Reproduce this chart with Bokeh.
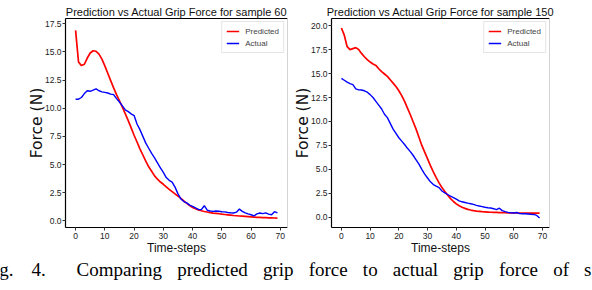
from bokeh.plotting import figure
from bokeh.layouts import column, row
from bokeh.models import (Range1d, FixedTicker, LinearAxis, Label, Legend,
                          LegendItem, PrintfTickFormatter)
from bokeh.embed import file_html
from bokeh.resources import INLINE

# ---------------- data ----------------
time_steps = list(range(70))

pred_60 = [16.9, 14.1, 13.78, 13.9, 14.45, 14.9, 15.1, 15.05, 14.8, 14.35,
           13.75, 13.1, 12.45, 11.8, 11.2, 10.65, 10.1, 9.5, 8.9, 8.25,
           7.6, 7.0, 6.4, 5.85, 5.3, 4.8, 4.4, 4.0, 3.7, 3.45,
           3.25, 3.02, 2.8, 2.6, 2.4, 2.2, 2.0, 1.78, 1.56, 1.36,
           1.2, 1.08, 0.98, 0.9, 0.84, 0.79, 0.74, 0.7, 0.67, 0.64,
           0.6, 0.57, 0.54, 0.51, 0.48, 0.46, 0.44, 0.42, 0.4, 0.38,
           0.36, 0.34, 0.32, 0.31, 0.3, 0.29, 0.28, 0.27, 0.26, 0.25]

actual_60 = [10.8, 10.8, 10.95, 11.3, 11.55, 11.5, 11.6, 11.72, 11.55, 11.45,
             11.4, 11.35, 11.25, 11.2, 10.85, 10.55, 10.2, 9.85, 9.7, 9.5,
             9.35, 8.6, 8.1, 7.5, 6.9, 6.45, 6.0, 5.6, 5.15, 4.7,
             4.3, 3.85, 3.6, 3.45, 3.0, 2.4, 1.95, 1.72, 1.6, 1.4,
             1.3, 1.15, 1.02, 1.0, 1.35, 0.95, 0.88, 0.85, 0.88, 0.86,
             0.82, 0.8, 0.75, 0.72, 0.7, 0.78, 1.05, 0.85, 0.72, 0.62,
             0.55, 0.45, 0.62, 0.7, 0.65, 0.72, 0.6, 0.55, 0.82, 0.72]

pred_150 = [19.75, 19.0, 17.8, 17.5, 17.6, 17.7, 17.5, 17.1, 16.75, 16.45,
            16.2, 16.0, 15.85, 15.5, 15.2, 14.95, 14.7, 14.35, 14.0, 13.65,
            13.2, 12.7, 12.1, 11.4, 10.7, 9.95, 9.2, 8.35, 7.5, 6.8,
            6.1, 5.4, 4.75, 4.15, 3.6, 3.1, 2.7, 2.3, 1.95, 1.65,
            1.4, 1.2, 1.05, 0.93, 0.83, 0.76, 0.7, 0.65, 0.62, 0.59,
            0.57, 0.55, 0.53, 0.52, 0.51, 0.5, 0.49, 0.48, 0.47, 0.46,
            0.46, 0.45, 0.45, 0.45, 0.45, 0.44, 0.44, 0.44, 0.44, 0.44]

actual_150 = [14.5, 14.3, 14.1, 13.95, 13.85, 13.4, 13.3, 13.28, 13.2, 13.05,
              12.8, 12.5, 12.1, 11.7, 11.3, 10.75, 10.4, 9.8, 9.2, 8.75,
              8.3, 7.95, 7.6, 7.2, 6.85, 6.45, 6.0, 5.55, 5.0, 4.5,
              4.1, 3.7, 3.42, 3.25, 3.1, 2.75, 2.55, 2.38, 2.2, 2.05,
              1.9, 1.72, 1.62, 1.55, 1.48, 1.42, 1.35, 1.25, 1.18, 1.12,
              1.05, 1.0, 0.97, 0.9, 0.8, 0.95, 0.7, 0.6, 0.52, 0.47,
              0.45, 0.5, 0.4, 0.38, 0.37, 0.35, 0.32, 0.3, 0.2, -0.07]

x_ticks = [0, 10, 20, 30, 40, 50, 60, 70]
y_ticks_60 = [0.0, 2.5, 5.0, 7.5, 10.0, 12.5, 15.0, 17.5]
y_ticks_150 = [0.0, 2.5, 5.0, 7.5, 10.0, 12.5, 15.0, 17.5, 20.0]

titles = ["Prediction vs Actual Grip Force for sample 60",
          "Prediction vs Actual Grip Force for sample 150"]
x_label = "Time-steps"
y_label = "Force (N)"
legend_labels = ["Predicted", "Actual"]
caption_words = ["Fig.", "4.", "Comparing", "predicted", "grip", "force", "to",
                 "actual", "grip", "force", "of", "s"]

# ---------------- layout constants ----------------
TOTAL_W = 592
TOP = 18
FRAME_H = 209
BOTTOM = 31
PANEL_H = TOP + FRAME_H + BOTTOM
FOOTER_H = 290 - PANEL_H
W1, BL1, FW1 = 290, 65, 222
W2, BL2, FW2 = TOTAL_W - 290, 38, 221

SANS = "Liberation Sans"
RED = "#ff0000"
BLUE = "#0000ff"


def padded(lo, hi, frac=0.05):
    span = hi - lo
    return lo - frac * span, hi + frac * span


def make_panel(title, pred, actual, yticks, width, bl, fw):
    lo = min(min(pred), min(actual))
    hi = max(max(pred), max(actual))
    y0, y1 = padded(lo, hi)
    # keep the top tick label fully inside the axis extent
    y1 = max(y1, max(yticks) + 0.025 * (y1 - y0))
    p = figure(width=width, height=PANEL_H, output_backend="svg",
               toolbar_location=None, title=title,
               x_range=Range1d(*padded(min(time_steps), max(time_steps))),
               y_range=Range1d(y0, y1),
               min_border_left=bl, min_border_right=width - bl - fw,
               min_border_top=TOP, min_border_bottom=BOTTOM)
    p.title.text_font = SANS
    p.title.text_font_size = "11px"
    p.title.text_font_style = "normal"
    p.title.text_color = "#111111"
    p.title.align = "center"
    p.title.standoff = 2
    p.grid.visible = False
    p.outline_line_color = None
    p.background_fill_color = "white"
    p.border_fill_color = "white"

    r1 = p.line(time_steps, pred, line_color=RED, line_width=1.7)
    r2 = p.line(time_steps, actual, line_color=BLUE, line_width=1.4)

    xa = p.below[0]
    ya = p.left[0]
    for ax in (xa, ya):
        ax.axis_line_color = "black"
        ax.axis_line_width = 1.2
        ax.major_tick_line_color = "#333333"
        ax.major_tick_out = 3
        ax.major_tick_in = 0
        ax.minor_tick_line_color = None
        ax.major_label_text_font = SANS
        ax.major_label_text_font_size = "8.5px"
        ax.major_label_text_color = "#222222"
    xa.major_label_standoff = 2
    ya.major_label_standoff = 1
    xa.ticker = FixedTicker(ticks=x_ticks)
    ya.ticker = FixedTicker(ticks=yticks)
    ya.formatter = PrintfTickFormatter(format="%.1f")

    xa.axis_label = x_label
    xa.axis_label_text_font = SANS
    xa.axis_label_text_font_size = "12px"
    xa.axis_label_text_font_style = "normal"
    xa.axis_label_standoff = -1
    xa.axis_label_text_color = "#111111"
    ya.axis_label = y_label
    ya.axis_label_text_font = "DejaVu Sans"
    ya.axis_label_text_font_size = "15.5px"
    ya.axis_label_text_font_style = "normal"
    ya.axis_label_standoff = -4
    ya.axis_label_text_color = "#111111"

    top = LinearAxis(ticker=FixedTicker(ticks=[]), axis_line_color="black",
                     axis_line_width=1.2, major_tick_line_color=None,
                     minor_tick_line_color=None,
                     major_label_text_font_size="0px")
    p.add_layout(top, "above")
    right = LinearAxis(ticker=FixedTicker(ticks=[]), axis_line_color="#d4d4d4",
                       axis_line_width=1, major_tick_line_color=None,
                       minor_tick_line_color=None,
                       major_label_text_font_size="0px")
    p.add_layout(right, "right")

    legend = Legend(items=[LegendItem(label=legend_labels[0], renderers=[r1]),
                           LegendItem(label=legend_labels[1], renderers=[r2])],
                    location="top_right", margin=3, padding=4, spacing=2,
                    glyph_width=13, glyph_height=10, label_height=10,
                    label_standoff=6, label_text_font=SANS,
                    label_text_font_size="8px",
                    border_line_color="#cccccc", border_line_width=1,
                    background_fill_color="white", background_fill_alpha=1)
    p.add_layout(legend)
    return p


p1 = make_panel(titles[0], pred_60, actual_60, y_ticks_60, W1, BL1, FW1)
p2 = make_panel(titles[1], pred_150, actual_150, y_ticks_150, W2, BL2, FW2)

# ---------------- footer caption ----------------
footer = figure(width=TOTAL_W, height=FOOTER_H, output_backend="svg",
                toolbar_location=None, title=None,
                x_axis_type=None, y_axis_type=None,
                x_range=Range1d(0, TOTAL_W), y_range=Range1d(0, FOOTER_H),
                min_border=0)
footer.outline_line_color = None

TIMES_W = {"F": .556, "i": .278, "g": .5, ".": .25, "4": .5, "C": .667,
           "o": .5, "m": .778, "p": .5, "a": .444, "r": .333, "n": .5,
           "e": .444, "d": .5, "c": .444, "t": .278, "f": .333, "u": .5,
           "l": .278, "s": .389}
FS = 19


def wwidth(w):
    return sum(TIMES_W.get(ch, .5) for ch in w) * FS


starts = [13 - wwidth(caption_words[0]), 31, 76]
body = caption_words[2:]
avail = (591 - 76) - sum(wwidth(w) for w in body)
gap = avail / (len(body) - 1)
x = 76 + wwidth(caption_words[2]) + gap
for w in caption_words[3:]:
    starts.append(x)
    x += wwidth(w) + gap
caption_middle = 269
for w, sx in zip(caption_words, starts):
    footer.add_layout(Label(x=sx, y=290 - caption_middle,
                            x_units="screen", y_units="screen",
                            text=w, text_font="Liberation Serif",
                            text_font_size=f"{FS}px", text_align="left",
                            text_baseline="middle", text_color="black"))

layout = column(row(p1, p2), footer)
open("out.html", "w").write(file_html(layout, INLINE))
